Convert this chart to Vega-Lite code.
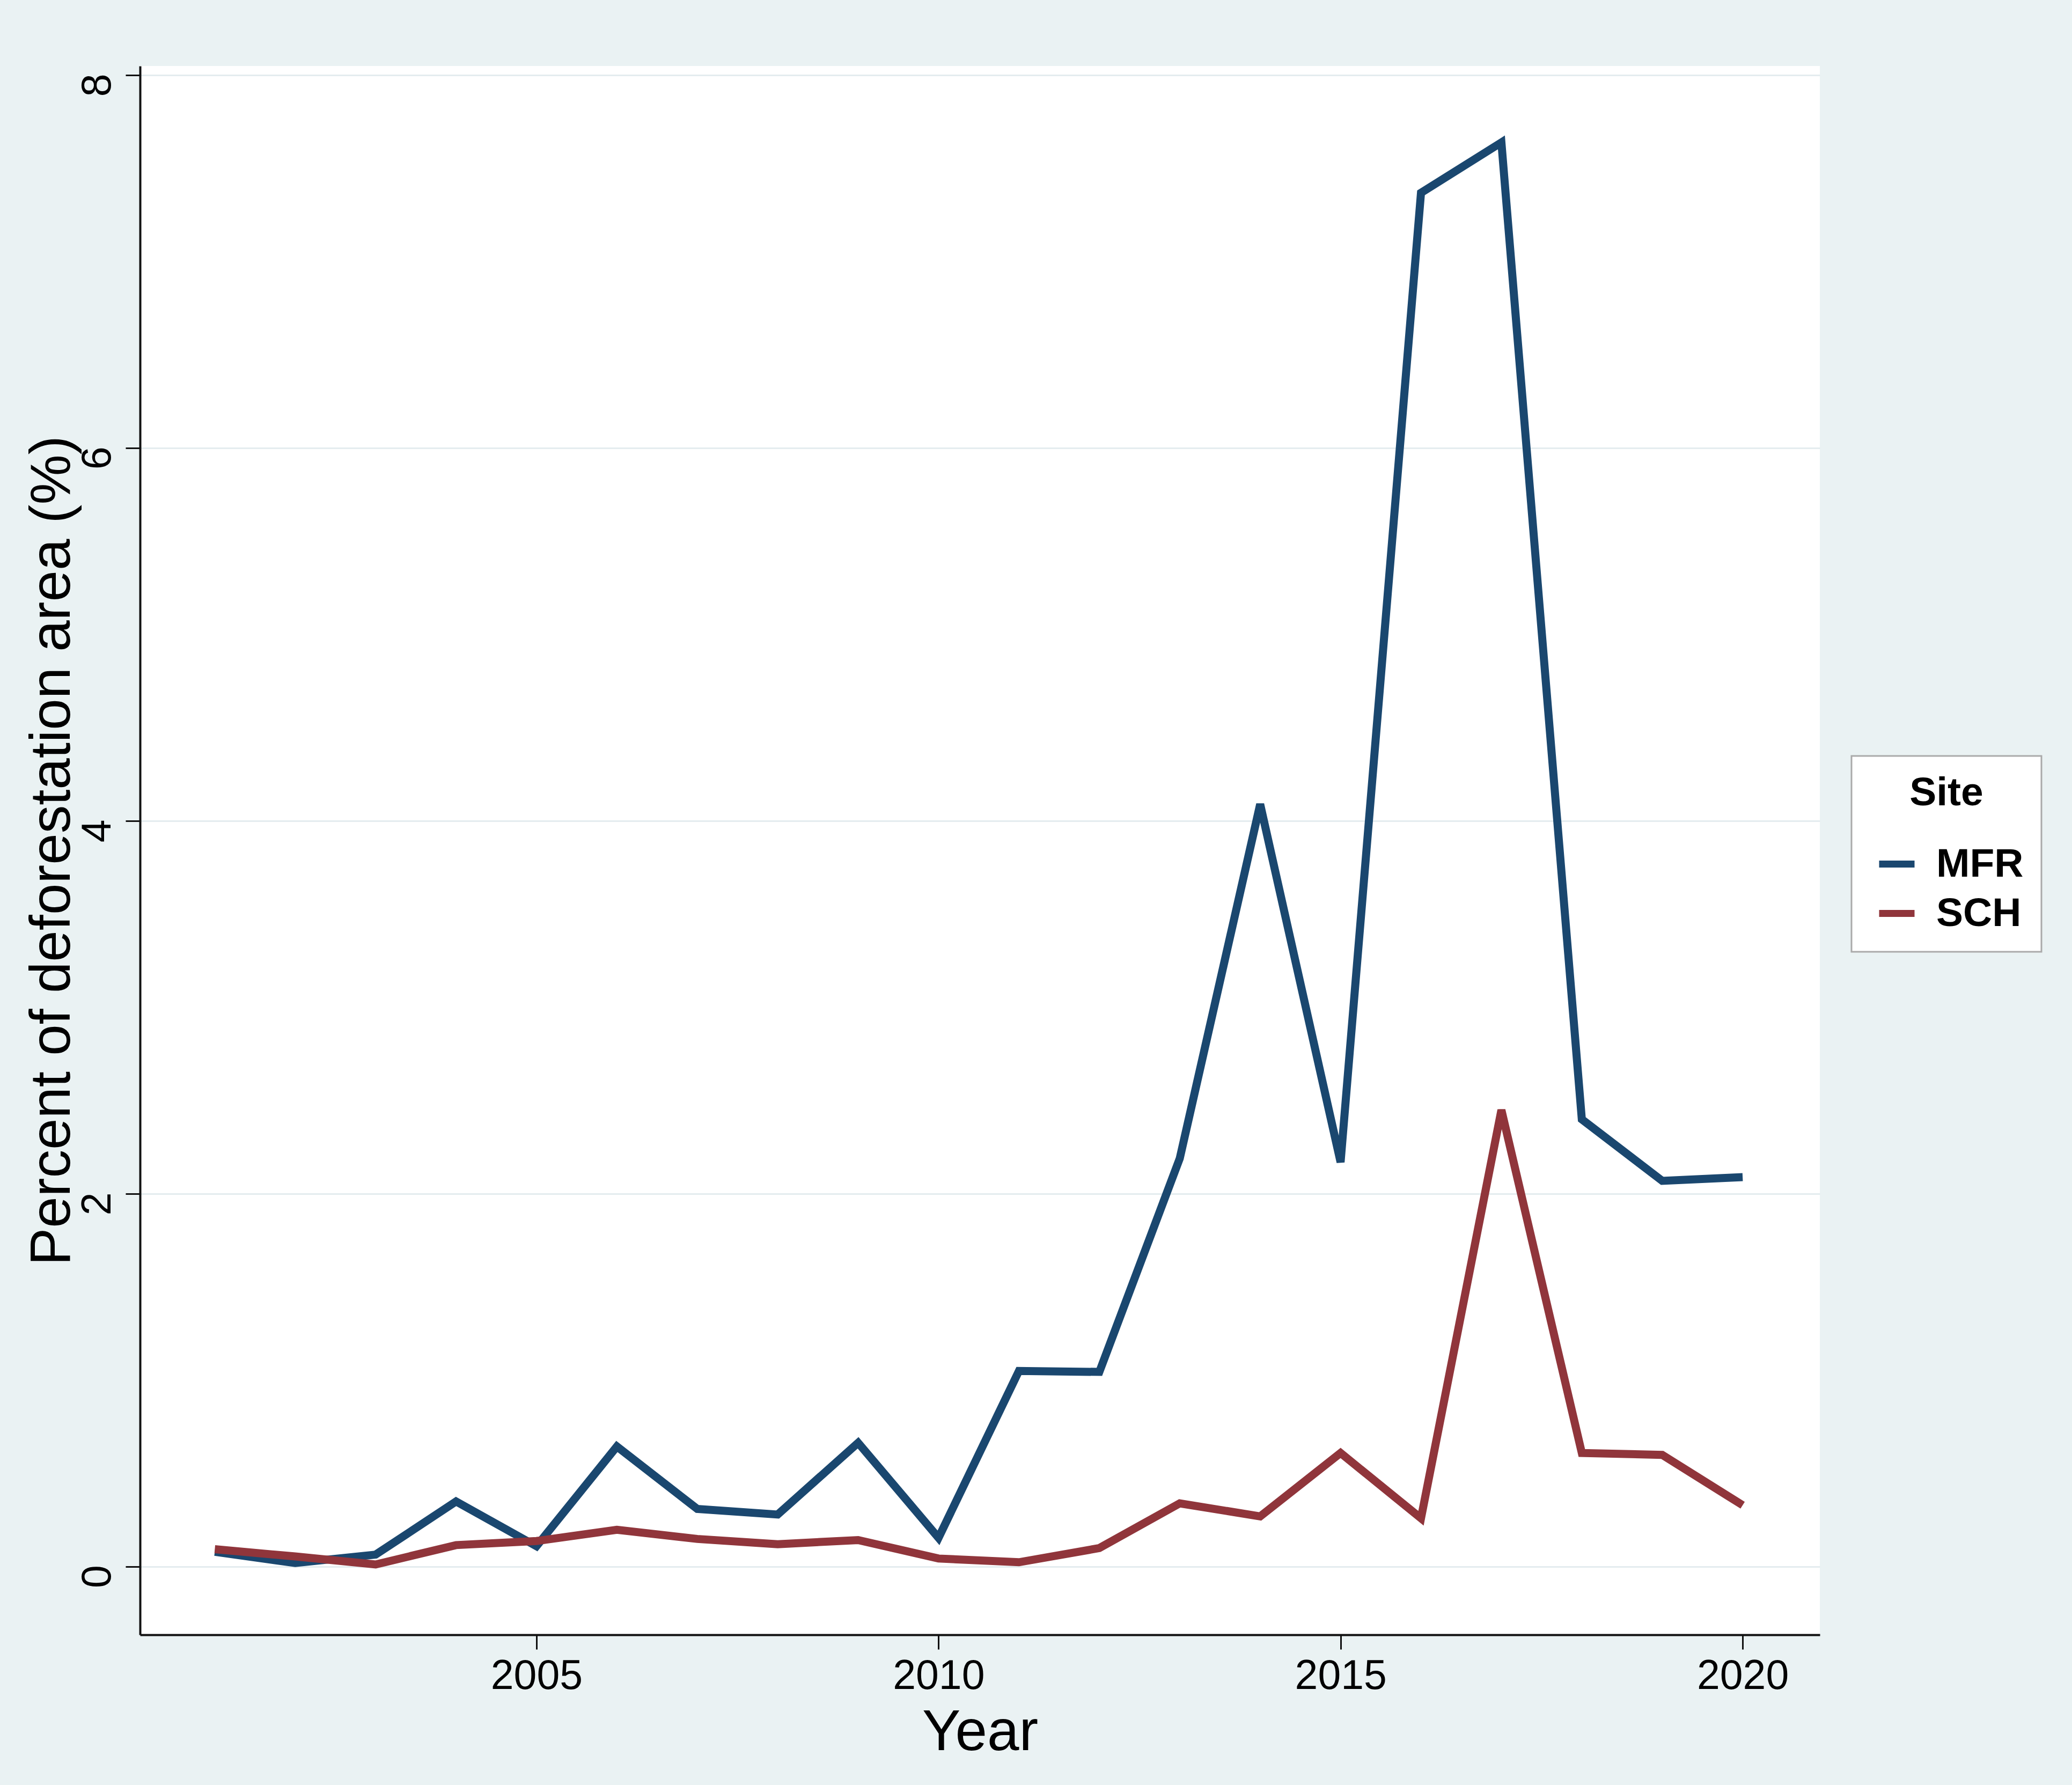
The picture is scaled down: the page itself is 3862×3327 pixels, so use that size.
{
  "$schema": "https://vega.github.io/schema/vega-lite/v6.json",
  "description": "Percent of deforestation area by year, MFR and SCH sites.",
  "autosize": "none",
  "width": 3131,
  "height": 2924,
  "padding": {"left": 261, "top": 123, "right": 470, "bottom": 280},
  "background": "#eaf2f3",
  "config": {
    "font": "Liberation Sans",
    "view": {"fill": "white", "stroke": null},
    "axis": {
      "domainColor": "#111111",
      "domainWidth": 4,
      "tickColor": "#111111",
      "tickWidth": 3,
      "tickSize": 27,
      "labelColor": "black",
      "labelFontSize": 77,
      "titleColor": "black",
      "titleFontSize": 107,
      "titleFontWeight": "normal"
    },
    "legend": {
      "fillColor": "white",
      "strokeColor": "#aaaaaa"
    }
  },
  "data": {
    "values": [
      {"Year": 2001, "Site": "MFR", "Percent": 0.08},
      {"Year": 2002, "Site": "MFR", "Percent": 0.02},
      {"Year": 2003, "Site": "MFR", "Percent": 0.065},
      {"Year": 2004, "Site": "MFR", "Percent": 0.35},
      {"Year": 2005, "Site": "MFR", "Percent": 0.11},
      {"Year": 2006, "Site": "MFR", "Percent": 0.645},
      {"Year": 2007, "Site": "MFR", "Percent": 0.31},
      {"Year": 2008, "Site": "MFR", "Percent": 0.28},
      {"Year": 2009, "Site": "MFR", "Percent": 0.665},
      {"Year": 2010, "Site": "MFR", "Percent": 0.155},
      {"Year": 2011, "Site": "MFR", "Percent": 1.05},
      {"Year": 2012, "Site": "MFR", "Percent": 1.045},
      {"Year": 2013, "Site": "MFR", "Percent": 2.19},
      {"Year": 2014, "Site": "MFR", "Percent": 4.09},
      {"Year": 2015, "Site": "MFR", "Percent": 2.17},
      {"Year": 2016, "Site": "MFR", "Percent": 7.37},
      {"Year": 2017, "Site": "MFR", "Percent": 7.64},
      {"Year": 2018, "Site": "MFR", "Percent": 2.4},
      {"Year": 2019, "Site": "MFR", "Percent": 2.07},
      {"Year": 2020, "Site": "MFR", "Percent": 2.09},
      {"Year": 2001, "Site": "SCH", "Percent": 0.094},
      {"Year": 2002, "Site": "SCH", "Percent": 0.055},
      {"Year": 2003, "Site": "SCH", "Percent": 0.012},
      {"Year": 2004, "Site": "SCH", "Percent": 0.116},
      {"Year": 2005, "Site": "SCH", "Percent": 0.138},
      {"Year": 2006, "Site": "SCH", "Percent": 0.198},
      {"Year": 2007, "Site": "SCH", "Percent": 0.149},
      {"Year": 2008, "Site": "SCH", "Percent": 0.121},
      {"Year": 2009, "Site": "SCH", "Percent": 0.143},
      {"Year": 2010, "Site": "SCH", "Percent": 0.044},
      {"Year": 2011, "Site": "SCH", "Percent": 0.024},
      {"Year": 2012, "Site": "SCH", "Percent": 0.1},
      {"Year": 2013, "Site": "SCH", "Percent": 0.34},
      {"Year": 2014, "Site": "SCH", "Percent": 0.27},
      {"Year": 2015, "Site": "SCH", "Percent": 0.61},
      {"Year": 2016, "Site": "SCH", "Percent": 0.26},
      {"Year": 2017, "Site": "SCH", "Percent": 2.45},
      {"Year": 2018, "Site": "SCH", "Percent": 0.61},
      {"Year": 2019, "Site": "SCH", "Percent": 0.6},
      {"Year": 2020, "Site": "SCH", "Percent": 0.33}
    ]
  },
  "mark": {"type": "line", "strokeWidth": 15, "strokeJoin": "miter", "clip": true},
  "encoding": {
    "x": {
      "field": "Year",
      "type": "quantitative",
      "scale": {"domain": [2000.07, 2020.96], "nice": false, "zero": false},
      "axis": {
        "values": [2005, 2010, 2015, 2020],
        "format": "d",
        "grid": false,
        "labelPadding": 12,
        "titlePadding": 14
      }
    },
    "y": {
      "field": "Percent",
      "type": "quantitative",
      "title": "Percent of deforestation area (%)",
      "scale": {"domain": [-0.365, 8.05], "nice": false, "zero": false},
      "axis": {
        "values": [0, 2, 4, 6, 8],
        "grid": true,
        "gridColor": "#e4ecef",
        "gridWidth": 3,
        "labelAngle": -90,
        "labelAlign": "center",
        "labelBaseline": "bottom",
        "labelPadding": 13,
        "labelOffset": 18,
        "titleFontSize": 105,
        "titlePadding": -8
      }
    },
    "color": {
      "field": "Site",
      "type": "nominal",
      "scale": {"domain": ["MFR", "SCH"], "range": ["#1a476f", "#90353b"]},
      "legend": {
        "orient": "none",
        "legendX": 3190,
        "legendY": 1286,
        "title": "Site",
        "titleFontSize": 75,
        "titleFontWeight": "bold",
        "titleColor": "black",
        "titleAnchor": "middle",
        "titlePadding": 54,
        "labelFontSize": 75,
        "labelFontWeight": "bold",
        "labelColor": "black",
        "labelLimit": 600,
        "labelOffset": 34,
        "symbolType": "stroke",
        "symbolSize": 4356,
        "symbolStrokeWidth": 13,
        "symbolOffset": 12,
        "rowPadding": 14,
        "padding": 33,
        "encode": {"legend": {"update": {"strokeWidth": {"value": 3}}}}
      }
    }
  }
}
